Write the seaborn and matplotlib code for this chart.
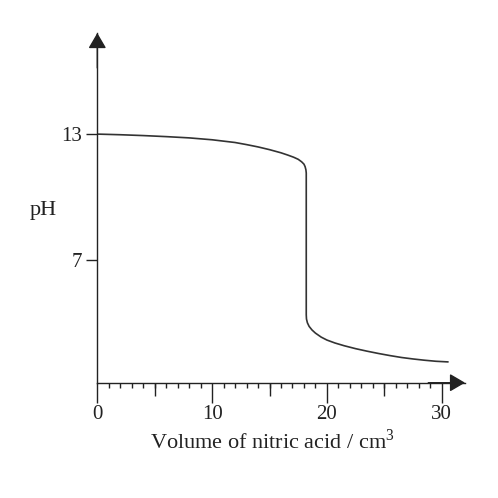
import numpy as np
import matplotlib
matplotlib.use('Agg')
import matplotlib.pyplot as plt
from matplotlib.ticker import FixedLocator
import seaborn as sns

# titration curve
volume = [0.0, 2.0, 4.0, 6.0, 8.0, 10.0, 12.0, 13.0, 14.0, 15.0, 16.0, 16.6, 17.1,
          17.5, 17.8, 18.0, 18.1, 18.17, 18.2,
          18.2, 18.22, 18.3, 18.45, 18.7, 19.0, 19.5, 20.0, 20.7, 21.5, 22.5, 23.5,
          24.5, 25.5, 26.5, 27.5, 28.5, 29.5, 30.55]
ph = [13.0, 12.97, 12.93, 12.88, 12.82, 12.73, 12.6, 12.5, 12.39, 12.26, 12.11, 12.0, 11.9,
      11.8, 11.68, 11.57, 11.45, 11.3, 11.15,
      4.4, 4.2, 4.02, 3.85, 3.68, 3.53, 3.34, 3.2, 3.06, 2.93, 2.79, 2.67,
      2.56, 2.46, 2.37, 2.3, 2.24, 2.19, 2.16]

x_major = [0, 10, 20, 30]
x_mid = [5, 15, 25]
x_minor = list(range(1, 31))
y_ticks = [7, 13]

sns.set_style('white')
plt.rcParams['font.family'] = ['Liberation Serif', 'DejaVu Serif']
plt.rcParams['mathtext.fontset'] = 'custom'
plt.rcParams['mathtext.rm'] = 'Liberation Serif'
ink = '#222222'

fig = plt.figure(figsize=(4.98, 4.98), dpi=100)
ax = fig.add_axes([0.1954, 0.2315, 0.7384, 0.7022])

df_curve = {'volume': volume, 'ph': ph}
sns.lineplot(data=df_curve, x='volume', y='ph', sort=False, estimator=None,
             color='#333333', linewidth=1.2, ax=ax)

ax.set_xlim(0, 32.03)
ax.set_ylim(1.17, 17.81)
ax.set_xlabel('')
ax.set_ylabel('')

for side in ['top', 'right']:
    ax.spines[side].set_visible(False)
for side in ['left', 'bottom']:
    ax.spines[side].set_color(ink)
    ax.spines[side].set_linewidth(1.0)

ax.set_xticks(x_major)
ax.xaxis.set_minor_locator(FixedLocator(x_minor))
ax.set_yticks(y_ticks)
ax.tick_params(axis='x', which='major', direction='out', length=14.4, width=1.0,
               color=ink, pad=2, labelsize=15, labelcolor=ink, bottom=True)
ax.tick_params(axis='x', which='minor', direction='out', length=3.4, width=1.0,
               color=ink, bottom=True)
ax.tick_params(axis='y', which='major', direction='out', length=8, width=1.0,
               color=ink, pad=3, labelsize=15, labelcolor=ink, left=True)

# medium ticks at 5, 15, 25
sec = ax.secondary_xaxis('bottom')
sec.set_xticks(x_mid)
sec.set_xticklabels([])
sec.tick_params(direction='out', length=9, width=1.0, color=ink)
sec.spines['bottom'].set_visible(False)

# arrow heads on the axes
arrow = dict(arrowstyle='-|>,head_length=0.94,head_width=0.55', color=ink, lw=1.0,
             shrinkA=0, shrinkB=0)
ax.annotate('', xy=(0, 1), xycoords='axes fraction', xytext=(0, 0.9),
            textcoords='axes fraction', arrowprops=arrow, annotation_clip=False)
ax.annotate('', xy=(1, 0), xycoords='axes fraction', xytext=(0.9, 0),
            textcoords='axes fraction', arrowprops=arrow, annotation_clip=False)

fig.text(43 / 498, 1 - 211 / 498, 'pH', ha='center', va='center', fontsize=16, color=ink)
fig.text(272 / 498, 1 - 441 / 498, 'Volume of nitric acid / cm$^3$', ha='center', va='center',
         fontsize=16, color=ink)

fig.savefig('out.png', dpi=100, facecolor='white')
